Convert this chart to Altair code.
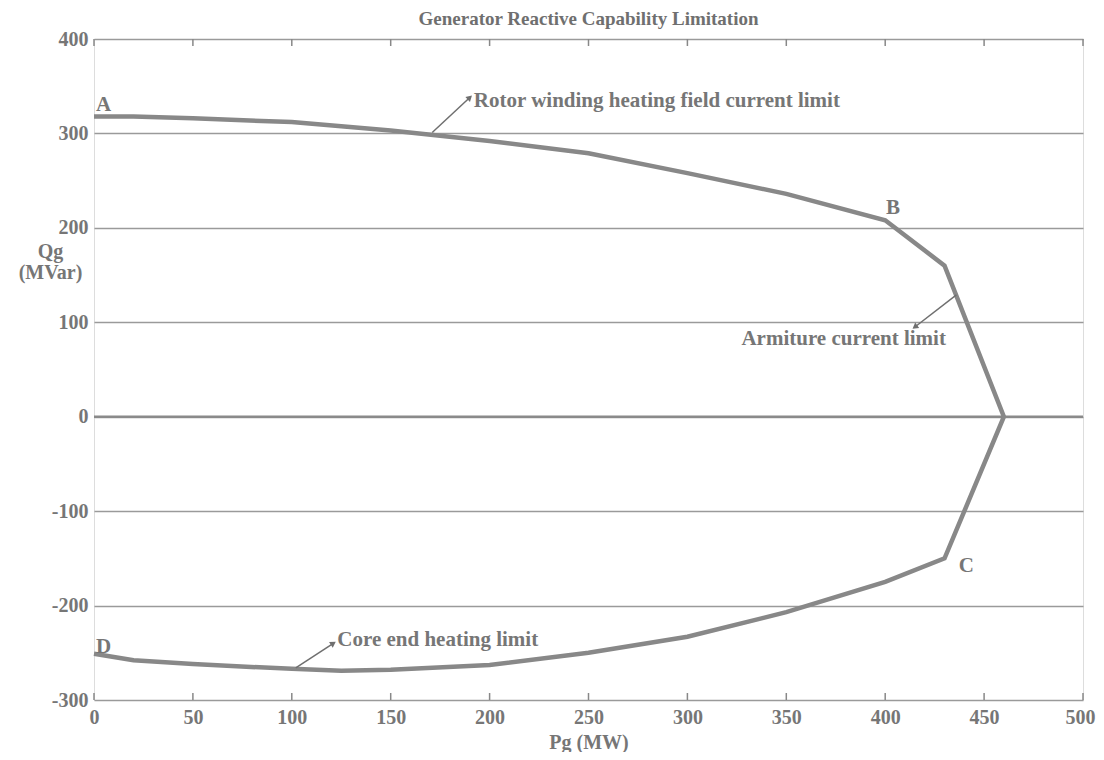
import altair as alt
import pandas as pd

# Capability curve (Pg in MW, Qg in MVar), traced A -> B -> tip -> C -> D
pg_curve = [0, 20, 50, 100, 150, 200, 250, 300, 350, 400, 430, 460,
            430, 400, 350, 300, 250, 200, 150, 125, 100, 50, 20, 0]
qg_curve = [318, 318, 316, 312, 303, 292, 279, 258, 236, 208, 160, 0,
            -150, -175, -207, -233, -250, -263, -268, -269, -267, -262, -258, -251]

x_ticks = [0, 50, 100, 150, 200, 250, 300, 350, 400, 450, 500]
y_ticks = [-300, -200, -100, 0, 100, 200, 300, 400]

# Point labels
pt_text = ["A", "B", "C", "D"]
pt_x = [1, 404, 441, 1]
pt_y = [330, 221, -158, -244]
pt_align = ["left", "center", "center", "left"]

# Annotations with arrows
ann_text = ["Rotor winding heating field current limit", "Armiture current limit", "Core end heating limit"]
ann_x = [192, 379, 123]
ann_y = [334, 82, -236]
ann_align = ["left", "center", "left"]
arr_x0 = [171, 436, 102]
arr_y0 = [301, 129, -266]
arr_x1 = [190, 415, 121]
arr_y1 = [338, 95, -240]
arr_angle = [47, 233, 57]

FONT = "Liberation Serif"
GRAY = "#767676"
LINE = "#888888"
FS = 21

curve = pd.DataFrame({"pg": pg_curve, "qg": qg_curve, "i": list(range(len(pg_curve)))})
pts = pd.DataFrame({"t": pt_text, "x": pt_x, "y": pt_y, "a": pt_align})
ann = pd.DataFrame({"t": ann_text, "x": ann_x, "y": ann_y, "a": ann_align})
arr = pd.DataFrame({"x0": arr_x0, "y0": arr_y0, "x1": arr_x1, "y1": arr_y1, "ang": arr_angle})
ticks = pd.DataFrame({"x": x_ticks})

xs = alt.Scale(domain=[0, 500], nice=False, zero=False)
ys = alt.Scale(domain=[-300, 400], nice=False, zero=False)

xaxis = alt.Axis(values=x_ticks, labelFont=FONT, labelFontWeight="bold", labelFontSize=20,
                 labelColor=GRAY, ticks=False, domain=False, grid=False, labelPadding=7,
                 title="Pg (MW)", titleFont=FONT, titleFontWeight="bold", titleFontSize=20,
                 titleColor=GRAY, titlePadding=5, labelFlush=False,
                 labelExpr="'' + datum.value",
                 labelAlign={"condition": {"test": "datum.value == 500", "value": "right"}, "value": "center"},
                 labelOffset={"condition": {"test": "datum.value == 500", "value": 12}, "value": 0})
yaxis = alt.Axis(values=y_ticks, labelFont=FONT, labelFontWeight="bold", labelFontSize=20,
                 labelColor=GRAY, ticks=False, domain=False, grid=True, gridColor="#9a9a9a",
                 gridWidth=1.5, labelPadding=6, title=["Qg", "(MVar)"], titleAngle=0,
                 titleFont=FONT, titleFontWeight="bold", titleFontSize=20, titleColor=GRAY,
                 titleX=-44, titleY=212, titleAlign="center", titleBaseline="middle",
                 titleLineHeight=21, labelFlush=False, labelExpr="'' + datum.value")

line = alt.Chart(curve).mark_line(color=LINE, strokeWidth=4.5, strokeJoin="miter").encode(
    x=alt.X("pg:Q", scale=xs, axis=xaxis),
    y=alt.Y("qg:Q", scale=ys, axis=yaxis),
    order="i:O",
)

zero_line = alt.Chart(pd.DataFrame({"y": [0]})).mark_rule(color="#8a8a8a", strokeWidth=2.5).encode(
    y=alt.Y("y:Q", scale=ys)
)

bottom_ticks = alt.Chart(ticks).mark_rule(color=LINE, strokeWidth=1.5).encode(
    x=alt.X("x:Q", scale=xs), y=alt.value(661), y2=alt.value(654)
)
top_ticks = alt.Chart(ticks).mark_rule(color=LINE, strokeWidth=1.5).encode(
    x=alt.X("x:Q", scale=xs), y=alt.value(0), y2=alt.value(7)
)

def text_layer(df, align):
    return alt.Chart(df).mark_text(font=FONT, fontWeight="bold", fontSize=FS, color=GRAY,
                                   baseline="middle", align=align).encode(
        x=alt.X("x:Q", scale=xs), y=alt.Y("y:Q", scale=ys), text="t:N")

pt_left = text_layer(pts[pts.a == "left"], "left")
pt_center = text_layer(pts[pts.a == "center"], "center")
ann_left = text_layer(ann[ann.a == "left"], "left")
ann_center = text_layer(ann[ann.a == "center"], "center")

arrow_lines = alt.Chart(arr).mark_rule(color="#6f6f6f", strokeWidth=1.5).encode(
    x=alt.X("x0:Q", scale=xs), y=alt.Y("y0:Q", scale=ys), x2="x1:Q", y2="y1:Q")
arrow_heads = alt.Chart(arr).mark_point(shape="triangle-up", filled=True, color="#6f6f6f",
                                        size=45, opacity=1).encode(
    x=alt.X("x1:Q", scale=xs), y=alt.Y("y1:Q", scale=ys), angle=alt.Angle("ang:Q", scale=None))

chart = alt.layer(
    zero_line, line, bottom_ticks, top_ticks, pt_left, pt_center, ann_left, ann_center,
    arrow_lines, arrow_heads
).properties(
    width=989, height=661,
    title=alt.Title("Generator Reactive Capability Limitation", font=FONT, fontWeight="bold",
                    fontSize=19, color="#6f6f6f", offset=0),
    autosize=alt.AutoSizeParams(type="none"),
    padding={"left": 86, "top": 31, "right": 13, "bottom": 52},
).configure_view(stroke=LINE, strokeWidth=3).configure(background="white")

chart.save("out.html", embed_options={"renderer": "svg", "actions": False})
